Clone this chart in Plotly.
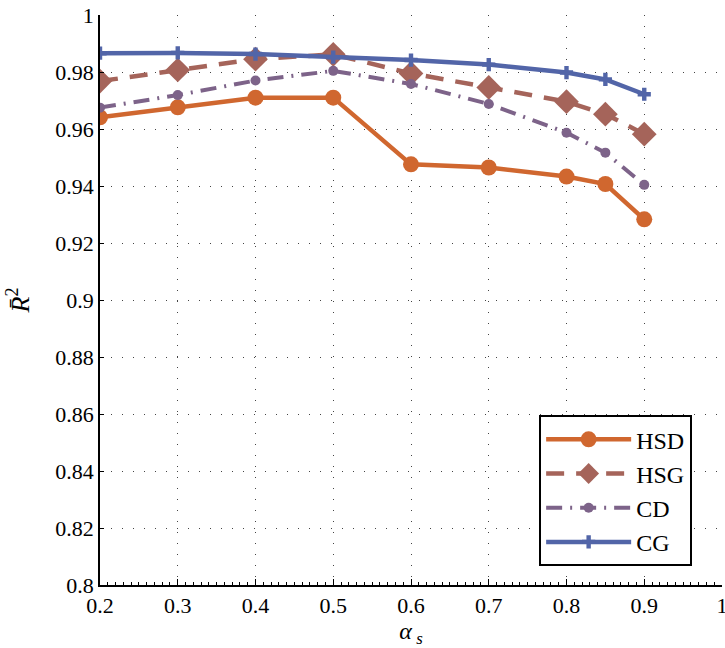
import plotly.graph_objects as go

alpha = [0.2, 0.3, 0.4, 0.5, 0.6, 0.7, 0.8, 0.85, 0.9]
hsd = [0.9641, 0.9676, 0.9710, 0.9710, 0.9476, 0.9465, 0.9433, 0.9407, 0.9283]
hsg = [0.9768, 0.9807, 0.9845, 0.9862, 0.9795, 0.9746, 0.9696, 0.9652, 0.9582]
cd = [0.9675, 0.9719, 0.9770, 0.9804, 0.9758, 0.9688, 0.9587, 0.9517, 0.9404]
cg = [0.9866, 0.9867, 0.9863, 0.9852, 0.9842, 0.9826, 0.9798, 0.9774, 0.9722]

x_ticks = [0.2, 0.3, 0.4, 0.5, 0.6, 0.7, 0.8, 0.9, 1.0]
x_ticklabels = ["0.2", "0.3", "0.4", "0.5", "0.6", "0.7", "0.8", "0.9", "1"]
y_ticks = [0.8, 0.82, 0.84, 0.86, 0.88, 0.9, 0.92, 0.94, 0.96, 0.98, 1.0]
y_ticklabels = ["0.8", "0.82", "0.84", "0.86", "0.88", "0.9", "0.92", "0.94", "0.96", "0.98", "1"]

FONT = "Liberation Serif"

fig = go.Figure()
fig.add_trace(go.Scatter(x=alpha, y=hsd, name="HSD", mode="lines+markers",
                         line=dict(color="#D0672F", width=4.5),
                         marker=dict(symbol="circle", size=16, color="#D0672F")))
fig.add_trace(go.Scatter(x=alpha, y=hsg, name="HSG", mode="lines+markers",
                         line=dict(color="#A5645A", width=4.5, dash="18px,12px"),
                         marker=dict(symbol="diamond", size=19, color="#A5645A")))
fig.add_trace(go.Scatter(x=alpha, y=cd, name="CD", mode="lines+markers",
                         line=dict(color="#7D6389", width=4, dash="16px,8px,2px,8px"),
                         marker=dict(symbol="circle", size=10, color="#7D6389")))
fig.add_trace(go.Scatter(x=alpha, y=cg, name="CG", mode="lines+markers",
                         line=dict(color="#5265A8", width=4.5),
                         marker=dict(symbol="cross", size=11, color="#5265A8")))

fig.update_layout(
    width=725, height=648,
    margin=dict(l=100, r=3, t=15, b=63, autoexpand=False),
    paper_bgcolor="white", plot_bgcolor="white",
    font=dict(family=FONT, size=21, color="black"),
    showlegend=True,
    legend=dict(x=0.952, y=0.033, xanchor="right", yanchor="bottom",
                bgcolor="white", bordercolor="black", borderwidth=2,
                font=dict(family=FONT, size=24), itemwidth=85,
                tracegroupgap=0),
)
fig.update_xaxes(
    range=[0.2, 1.0], tickmode="array", tickvals=x_ticks, ticktext=x_ticklabels,
    showline=True, linecolor="black", linewidth=1.5, mirror=False,
    ticks="inside", ticklen=6, tickcolor="black", automargin=False,
    showgrid=True, gridcolor="#444", gridwidth=1, griddash="1px,10px",
    zeroline=False, ticklabeloverflow="allow",
    minor=dict(dtick=0.01, ticks="inside", ticklen=3, tickcolor="black", showgrid=False),
    title=dict(text="<i>α</i><sub> <i>s</i></sub>", font=dict(family=FONT, size=24), standoff=4),
    tickfont=dict(family=FONT, size=22),
)
fig.update_yaxes(
    range=[0.8, 1.0], tickmode="array", tickvals=y_ticks, ticktext=y_ticklabels,
    showline=True, linecolor="black", linewidth=1.5, mirror=False,
    ticks="inside", ticklen=4, tickcolor="black", automargin=False,
    showgrid=True, gridcolor="#444", gridwidth=1, griddash="1px,10px",
    zeroline=False, ticklabeloverflow="allow",
    title=dict(text="<i>R̄</i><sup>2</sup>", font=dict(family=FONT, size=26), standoff=18),
    tickfont=dict(family=FONT, size=22),
)

fig.write_html("out.html")
